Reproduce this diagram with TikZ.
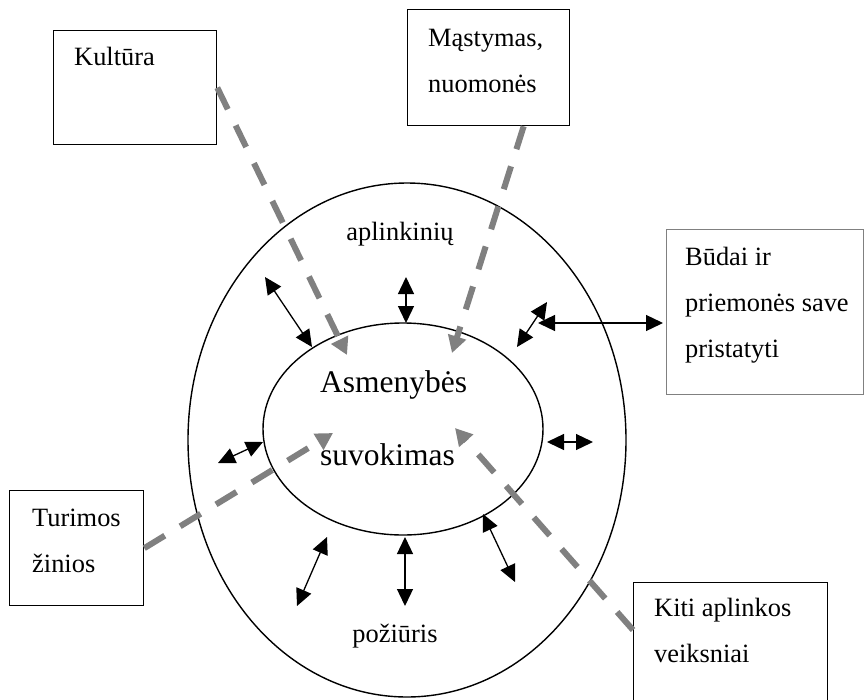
\documentclass[tikz,border=0pt]{standalone}
\usepackage{fontspec}
\setmainfont{Liberation Serif}
\usetikzlibrary{arrows.meta,shapes.geometric}
\definecolor{flowgray}{HTML}{808080}
\begin{document}
\begin{tikzpicture}[x=1pt,y=-1pt,
  box/.style={draw, line width=1.3pt, rectangle, inner sep=0pt, anchor=north west},
  ring/.style={draw, line width=1.4pt, ellipse, inner sep=0pt},
  boxtext/.style={anchor=base west, inner sep=0pt, align=left, font=\fontsize{26.4}{46}\selectfont},
  ringtext/.style={anchor=base, inner sep=0pt, font=\fontsize{26.4}{30}\selectfont},
  link/.style={line width=1.3pt, {Triangle[length=17pt,width=16pt]}-{Triangle[length=17pt,width=16pt]}},
  flow/.style={flowgray, line width=6pt, dash pattern=on 24pt off 18pt, -{Triangle[length=17pt,width=18pt]}}
]
\useasboundingbox (0,0) rectangle (864,699);
\fill[white] (0,0) rectangle (864,699);

% the two rings
\node[ring, minimum width=438, minimum height=514] (outer) at (407,440) {};
\node[ring, minimum width=280, minimum height=212] (inner) at (403,429) {};

% ring labels (a multi-line node sits on the baseline of its last line)
\node[ringtext] (aplink) at (400,240) {aplinkinių};
\node[ringtext] (poziuris) at (395,642) {požiūris};
\node[anchor=base west, inner sep=0pt, align=left, font=\fontsize{31.5}{73}\selectfont] (center) at (320,465) {Asmenybės\\suvokimas};

% outside factors
\node[box, minimum width=163, minimum height=114] (kultura) at (53,30) {};
\node[box, minimum width=162, minimum height=116] (mastymas) at (407,9) {};
\node[box, draw=flowgray, line width=1pt, minimum width=197, minimum height=165] (budai) at (666,229) {};
\node[box, minimum width=134, minimum height=115] (turimos) at (9,490) {};
\node[box, minimum width=194, minimum height=150] (kiti) at (633,582) {};

\node[boxtext] (kulturaT) at (74,65) {Kultūra};
\node[boxtext] (mastymasT) at (428,92) {Mąstymas,\\nuomonės};
\node[boxtext] (budaiT) at (685,357) {Būdai ir\\priemonės save\\pristatyti};
\node[boxtext] (turimosT) at (32,572) {Turimos\\žinios};
\node[boxtext] (kitiT) at (654,662) {Kiti aplinkos\\veiksniai};

% ends of the two-way links
\coordinate (a1) at (265,277); \coordinate (a2) at (312,347);
\coordinate (b1) at (406,277); \coordinate (b2) at (406,323);
\coordinate (c1) at (547,302); \coordinate (c2) at (517,347);
\coordinate (d1) at (538,323); \coordinate (d2) at (663,323);
\coordinate (e1) at (547,442); \coordinate (e2) at (593,442);
\coordinate (f1) at (263,442); \coordinate (f2) at (218,463);
\coordinate (g1) at (327,537); \coordinate (g2) at (297,606);
\coordinate (h1) at (405,537); \coordinate (h2) at (405,606);
\coordinate (i1) at (483,514); \coordinate (i2) at (515,582);

\foreach \p in {a,b,c,d,e,f,g,h,i}
  \draw[link] (\p1) -- (\p2);

% influences pointing into the centre
\coordinate (kulturaTip) at (347,355);
\coordinate (mastymasTip) at (452,353);
\coordinate (turimosTip) at (333,433);
\coordinate (kitiTip) at (455,428);

\draw[flow] (kultura.east) -- (kulturaTip);
\draw[flow] ([xshift=35pt]mastymas.south) -- (mastymasTip);
\draw[flow] (turimos.east) -- (turimosTip);
\draw[flow] ([yshift=-48pt]kiti.north west) -- (kitiTip);
\end{tikzpicture}
\end{document}
